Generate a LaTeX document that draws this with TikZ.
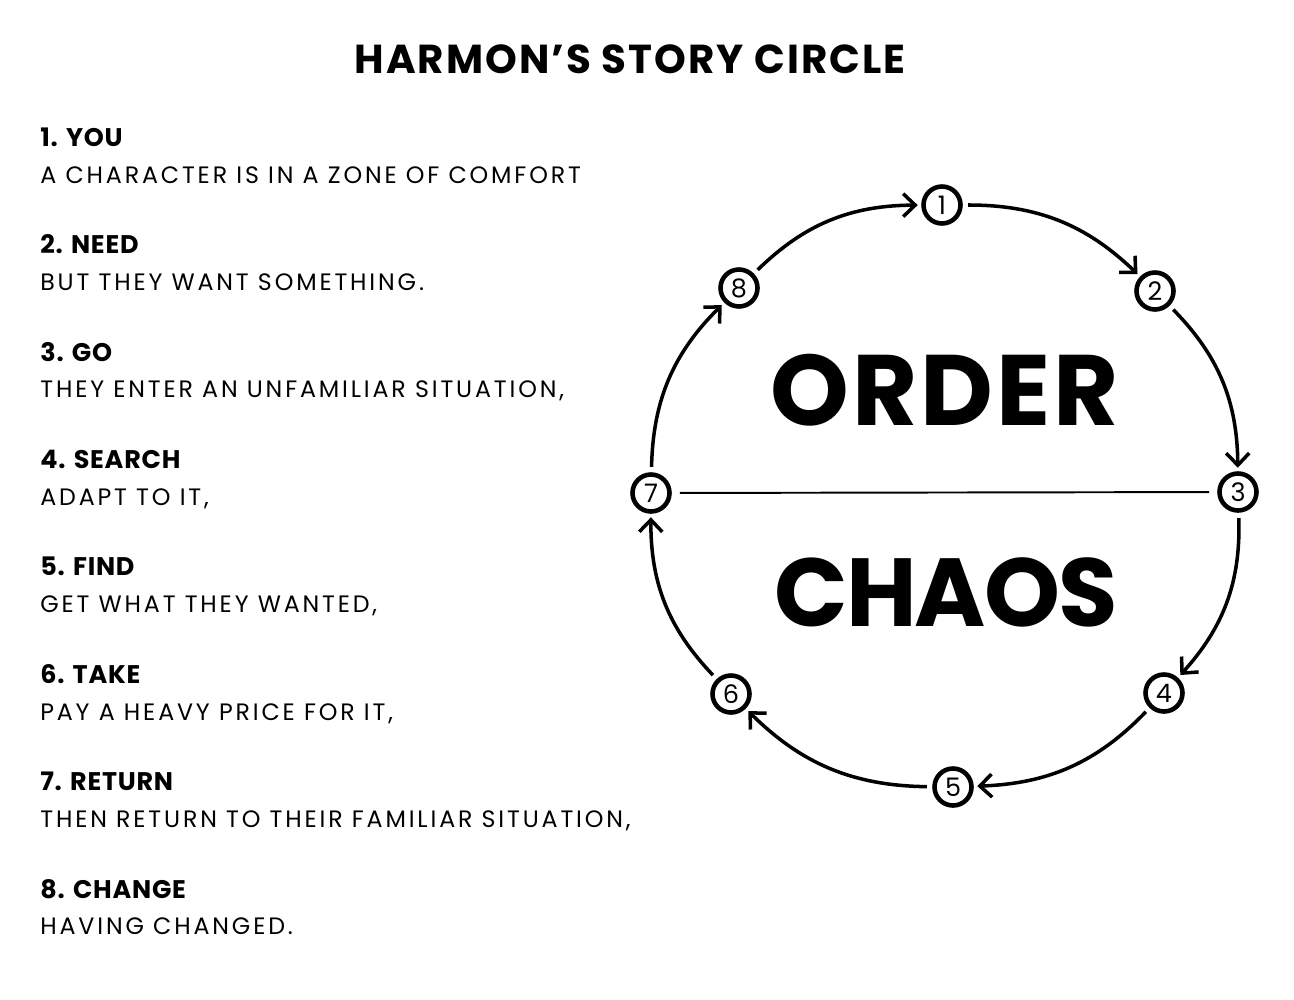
\documentclass[tikz,border=0pt]{standalone}
\usepackage{fontspec}
\setmainfont{Poppins}
\usepackage{xcolor}
\usetikzlibrary{arrows.meta,positioning}
\definecolor{ink}{HTML}{000000}

\begin{document}
\begin{tikzpicture}[
  node distance=0.32cm and 0.6cm,
  head/.style={inner sep=0pt, text height=0.36cm, text depth=0.06cm, text=ink, font=\bfseries\fontsize{14.5}{17}\selectfont\addfontfeatures{LetterSpace=3}},
  desc/.style={inner sep=0pt, text height=0.34cm, text depth=0.06cm, text=ink, font=\fontsize{13.5}{16}\selectfont\addfontfeatures{LetterSpace=12}},
  num/.style={circle, draw=ink, line width=2.6pt, minimum size=0.74cm, inner sep=0pt, font=\fontsize{14.5}{16}\selectfont},
  big/.style={inner sep=0pt, text=ink, font=\bfseries\fontsize{57}{60}\selectfont},
  arr/.style={-{Straight Barb[length=2.4mm,width=4.6mm]}, line width=2pt, ink, shorten >=2pt, shorten <=3pt}
]
  \useasboundingbox (0,0) rectangle (25.88,-20);
  \node[big, font=\bfseries\fontsize{23}{26}\selectfont\addfontfeatures{LetterSpace=5}] (title) at (12.6,-1.18) {HARMON’S STORY CIRCLE};

  \node[head, anchor=north west] (h1) at (0.8,-2.56) {1. YOU};
  \node[desc, below=of h1.south west, anchor=north west] (d1) {A CHARACTER IS IN A ZONE OF COMFORT};
  \node[head, below=0.98cm of d1.south west, anchor=north west] (h2) {2. NEED};
  \node[desc, below=of h2.south west, anchor=north west] (d2) {BUT THEY WANT SOMETHING.};
  \node[head, below=0.98cm of d2.south west, anchor=north west] (h3) {3. GO};
  \node[desc, below=of h3.south west, anchor=north west] (d3) {THEY ENTER AN UNFAMILIAR SITUATION,};
  \node[head, below=0.98cm of d3.south west, anchor=north west] (h4) {4. SEARCH};
  \node[desc, below=of h4.south west, anchor=north west] (d4) {ADAPT TO IT,};
  \node[head, below=0.98cm of d4.south west, anchor=north west] (h5) {5. FIND};
  \node[desc, below=of h5.south west, anchor=north west] (d5) {GET WHAT THEY WANTED,};
  \node[head, below=0.98cm of d5.south west, anchor=north west] (h6) {6. TAKE};
  \node[desc, below=of h6.south west, anchor=north west] (d6) {PAY A HEAVY PRICE FOR IT,};
  \node[head, below=0.98cm of d6.south west, anchor=north west] (h7) {7. RETURN};
  \node[desc, below=of h7.south west, anchor=north west] (d7) {THEN RETURN TO THEIR FAMILIAR SITUATION,};
  \node[head, below=0.98cm of d7.south west, anchor=north west] (h8) {8. CHANGE};
  \node[desc, below=of h8.south west, anchor=north west] (d8) {HAVING CHANGED.};

  % story circle
  \node[num] (n1) at (18.84,-4.10) {1};
  \node[num] (n2) at (23.10,-5.82) {2};
  \node[num] (n3) at (24.76,-9.84) {3};
  \node[num] (n4) at (23.28,-13.86) {4};
  \node[num] (n5) at (19.06,-15.74) {5};
  \node[num] (n6) at (14.62,-13.88) {6};
  \node[num] (n7) at (13.02,-9.86) {7};
  \node[num] (n8) at (14.78,-5.76) {8};
  \node[big, font=\bfseries\fontsize{57}{60}\selectfont\addfontfeatures{LetterSpace=3}] (order) at (18.9,-7.8) {ORDER};
  \node[big, font=\bfseries\fontsize{55}{60}\selectfont\addfontfeatures{LetterSpace=-2}] (chaos) at (18.92,-11.84) {CHAOS};

  \draw[arr] (n1) to[bend left=22] (n2);
  \draw[arr] (n2) to[bend left=22] (n3);
  \draw[arr] (n3) to[bend left=22] (n4);
  \draw[arr] (n4) to[bend left=22] (n5);
  \draw[arr] (n5) to[bend left=22] (n6);
  \draw[arr] (n6) to[bend left=22] (n7);
  \draw[arr] (n7) to[bend left=22] (n8);
  \draw[arr] (n8) to[bend left=22] (n1);
  \draw[line width=1.1pt, ink, shorten >=0.16cm, shorten <=0.16cm] (n7) -- (n3);
\end{tikzpicture}
\end{document}
